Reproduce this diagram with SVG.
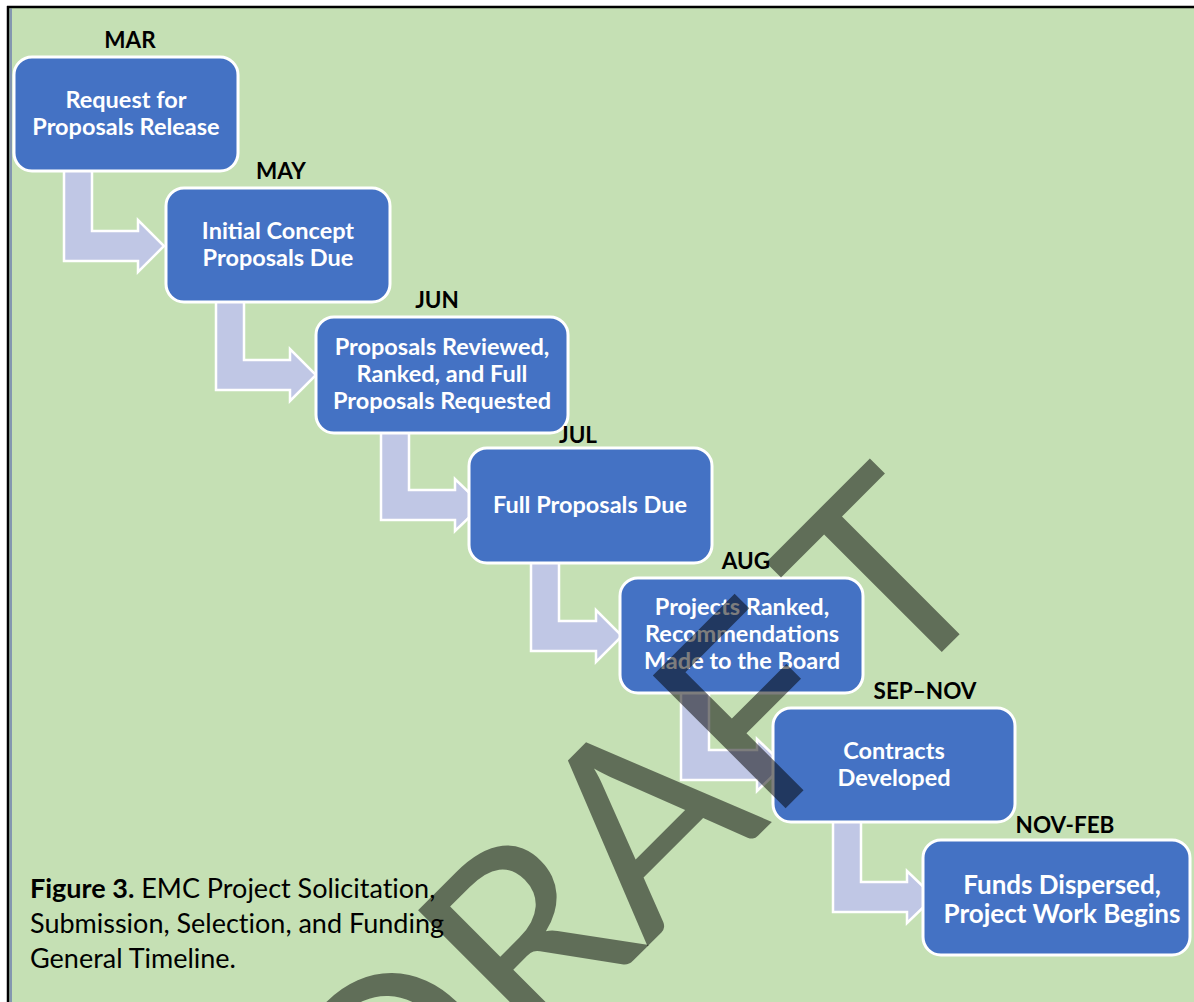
<svg xmlns="http://www.w3.org/2000/svg" width="1194" height="1002" viewBox="0 0 1194 1002">
<style>
.box{fill:#4472C4;stroke:#fff;stroke-width:3}
.bt{font-family:Lato,"Open Sans",sans-serif;font-weight:700;font-size:23.5px;fill:#fff;text-anchor:middle}
.bt7{font-size:26px}
.lbl{font-family:Lato,"Open Sans",sans-serif;font-weight:700;font-size:22.5px;fill:#000;text-anchor:middle}
.arrow{fill:#C0C7E5;stroke:#fff;stroke-width:2.5;stroke-linejoin:miter}
.cap{font-family:Lato,"Open Sans",sans-serif;font-size:27px;fill:#000;font-variant-ligatures:none}
.wm{font-family:Lato,"Open Sans",sans-serif;font-size:262px;fill:#000;fill-opacity:.51}
</style>
<rect x="0" y="0" width="1194" height="1002" fill="#fff"/>
<rect x="8" y="7" width="1186" height="995" fill="#C5E0B4"/>
<rect x="9.5" y="8.5" width="2.5" height="994" fill="#8497B0"/>
<line x1="8" y1="6" x2="8" y2="1002" stroke="#000" stroke-width="2.5"/>
<line x1="7" y1="7" x2="1194" y2="7" stroke="#000" stroke-width="2.5"/>

<g id="connectors">
<path class="arrow" d="M64,165 L92,165 L92,231 L138,231 L138,220 L164,246 L138,272 L138,261 L64,261 Z"/>
<path class="arrow" d="M216,295 L244,295 L244,360 L290,360 L290,349 L316,375 L290,401 L290,390 L216,390 Z"/>
<path class="arrow" d="M381,428 L409,428 L409,490 L455,490 L455,479 L482,505 L455,531 L455,520 L381,520 Z"/>
<path class="arrow" d="M531,558 L559,558 L559,621 L596,621 L596,610 L622,636 L596,662 L596,651 L531,651 Z"/>
<path class="arrow" d="M681,688 L709,688 L709,750 L757,750 L757,739 L784,765 L757,791 L757,780 L681,780 Z"/>
<path class="arrow" d="M833,817 L861,817 L861,882 L907,882 L907,871 L934,897 L907,923 L907,912 L833,912 Z"/>
</g>

<g id="n1">
<text class="lbl" x="130" y="48">MAR</text>
<rect class="box" x="14" y="57" width="224" height="114" rx="18"/>
<text class="bt" x="126" y="108">Request for</text>
<text class="bt" x="126" y="135">Proposals Release</text>
</g>
<g id="n2">
<text class="lbl" x="281" y="179">MAY</text>
<rect class="box" x="166" y="188" width="224" height="114" rx="18"/>
<text class="bt" x="278" y="239">Initial Concept</text>
<text class="bt" x="278" y="266">Proposals Due</text>
</g>
<g id="n3">
<text class="lbl" x="437" y="308">JUN</text>
<rect class="box" x="316" y="317" width="252" height="116" rx="18"/>
<text class="bt" x="442" y="355">Proposals Reviewed,</text>
<text class="bt" x="442" y="382">Ranked, and Full</text>
<text class="bt" x="442" y="409">Proposals Requested</text>
</g>
<g id="n4">
<text class="lbl" x="578" y="443">JUL</text>
<rect class="box" x="469" y="448" width="243" height="115" rx="18"/>
<text class="bt" x="590" y="513">Full Proposals Due</text>
</g>
<g id="n5">
<text class="lbl" x="746" y="569">AUG</text>
<rect class="box" x="620" y="578" width="243" height="115" rx="18"/>
<text class="bt" x="742" y="615">Projects Ranked,</text>
<text class="bt" x="742" y="642">Recommendations</text>
<text class="bt" x="742" y="669">Made to the Board</text>
</g>
<g id="n6">
<text class="lbl" x="925" y="699">SEP–NOV</text>
<rect class="box" x="773" y="708" width="242" height="114" rx="18"/>
<text class="bt" x="894" y="759">Contracts</text>
<text class="bt" x="894" y="786">Developed</text>
</g>
<g id="n7">
<text class="lbl" x="1065" y="833">NOV-FEB</text>
<rect class="box" x="923" y="840" width="267" height="115" rx="18"/>
<text class="bt bt7" x="1062" y="894">Funds Dispersed,</text>
<text class="bt bt7" x="1062" y="923">Project Work Begins</text>
</g>

<g id="caption">
<text class="cap" x="30" y="898"><tspan font-weight="700">Figure 3.</tspan> EMC Project Solicitation,</text>
<text class="cap" x="30" y="933">Submission, Selection, and Funding</text>
<text class="cap" x="30" y="968">General Timeline.</text>
</g>

<text class="wm" transform="rotate(-45)" x="-572 -372 -212 -40 140" y="1127">DRAFT</text>
</svg>
